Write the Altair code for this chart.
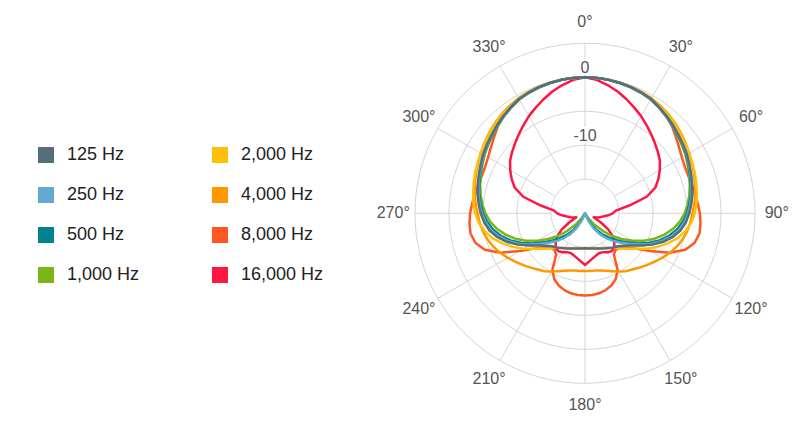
import altair as alt
import pandas as pd

# ---------------- data (dB; pattern is symmetric) -------------
angles = [0, 5, 10, 15, 20, 25, 30, 35, 40, 45, 50, 55, 60, 65, 70, 75, 80, 85, 90,
          95, 100, 105, 110, 115, 120, 125, 130, 135, 140, 145, 150, 155, 160, 165,
          170, 175, 180]

db_125 = [0, -0.01, -0.07, -0.15, -0.26, -0.41, -0.59, -0.96, -1.32, -1.69, -2.06,
          -2.38, -2.68, -3.06, -3.38, -3.68, -3.97, -4.31, -4.66, -5.1, -5.7, -6.6,
          -7.75, -9.1, -10.55, -11.75, -12.6, -13.15, -13.45, -13.75, -14.05, -14.3,
          -14.5, -14.65, -14.75, -14.8, -14.85]
db_250 = [0, -0.01, -0.07, -0.16, -0.27, -0.43, -0.62, -0.99, -1.36, -1.74, -2.11,
          -2.45, -2.76, -3.14, -3.47, -3.78, -4.1, -4.45, -4.82, -5.3, -5.95, -6.85,
          -8.0, -9.35, -10.8, -12.2, -13.3, -14.3, -15.3, -16.3, -17.4, -18.7,
          -20, -20, -20, -20, -20]
db_500 = [0, -0.01, -0.07, -0.16, -0.28, -0.44, -0.64, -1.01, -1.39, -1.78, -2.16,
          -2.5, -2.82, -3.21, -3.56, -3.88, -4.2, -4.6, -5.0, -5.55, -6.25, -7.2,
          -8.35, -9.7, -11.1, -12.55, -13.8, -14.9, -15.9, -16.9, -18.0, -19.2,
          -20, -20, -20, -20, -20]
db_1000 = [0, -0.01, -0.07, -0.16, -0.28, -0.45, -0.66, -1.04, -1.43, -1.83, -2.23,
           -2.58, -2.92, -3.32, -3.7, -4.05, -4.42, -4.85, -5.35, -6.0, -6.85, -7.9,
           -9.1, -10.45, -11.95, -13.4, -14.8, -16.4, -17.8, -19.0, -20, -20,
           -20, -20, -20, -20, -20]
db_2000 = [0, -0.01, -0.05, -0.12, -0.22, -0.35, -0.52, -0.78, -1.08, -1.38, -1.7,
           -2.0, -2.3, -2.56, -2.8, -3.05, -3.3, -3.55, -3.85, -4.3, -5.0, -5.9,
           -7.05, -8.3, -9.6, -10.9, -11.9, -12.7, -13.4, -13.8, -14.1, -14.35,
           -14.55, -14.7, -14.8, -14.85, -14.9]
db_4000 = [0, -0.01, -0.04, -0.1, -0.18, -0.3, -0.45, -0.68, -0.95, -1.25, -1.6,
           -1.95, -2.3, -2.65, -2.95, -3.25, -3.55, -3.85, -4.2, -4.45, -4.75, -5.15,
           -5.65, -6.25, -6.9, -7.55, -8.15, -8.7, -9.2, -9.6, -10.1, -10.6,
           -11.0, -11.3, -11.45, -11.5, -11.5]
db_8000 = [0, -0.01, -0.05, -0.12, -0.22, -0.38, -0.6, -0.95, -1.35, -1.9, -2.55,
           -3.1, -3.55, -3.8, -3.85, -3.75, -3.6, -3.35, -3.1, -2.95, -2.9, -3.3,
           -4.3, -6.3, -8.9, -11.0, -12.2, -12.8, -13.0, -12.6, -10.4, -9.3,
           -8.7, -8.3, -8.05, -7.95, -7.9]
db_16000 = [0, -0.3, -0.85, -1.45, -2.15, -2.85, -3.5, -4.2, -4.85, -5.45, -6.0,
            -6.55, -7.3, -8.1, -9.0, -10.6, -13.4, -15.45, -15.9, -16.6, -17.3, -17.8,
            -18.2, -18.6, -17.3, -15.8, -14.6, -13.9, -13.3, -13.2, -13.4, -13.7,
            -13.8, -13.6, -13.3, -12.9, -12.4]

freq_labels = ["125 Hz", "250 Hz", "500 Hz", "1,000 Hz",
               "2,000 Hz", "4,000 Hz", "8,000 Hz", "16,000 Hz"]
freq_colors = ["#546E7A", "#64A9D1", "#00838F", "#7CB518",
               "#FFC107", "#FF9800", "#FF5722", "#FF1744"]
series_values = [db_125, db_250, db_500, db_1000, db_2000, db_4000, db_8000, db_16000]

ring_levels = [-15, -10, -5, 0, 5]
ring_angles = list(range(0, 361, 2))
spoke_angles = [0, 30, 60, 90, 120, 150, 180, 210, 240, 270, 300, 330]
spoke_inner_db = -15
spoke_outer_db = 5
angle_label_db = 8.2
angle_label_text = ["0°", "30°", "60°", "90°", "120°", "150°", "180°",
                    "210°", "240°", "270°", "300°", "330°"]
radial_label_db = [0, -10]
radial_label_text = ["0", "-10"]
DB_FLOOR = -20

# ---------------- tables ----------------
rows = []
full_angles = angles + [360 - a for a in reversed(angles[:-1])]
for label, vals in reversed(list(zip(freq_labels, series_values))):
    full_vals = vals + list(reversed(vals[:-1]))
    for a, v in zip(full_angles, full_vals):
        rows.append({"freq": label, "angle": a, "db": v})
curves = pd.DataFrame(rows)

rings = pd.DataFrame([{"level": lv, "angle": a, "db": lv}
                      for lv in ring_levels for a in ring_angles])
spokes = pd.DataFrame({"angle": spoke_angles,
                       "db": [spoke_inner_db] * len(spoke_angles),
                       "db2": [spoke_outer_db] * len(spoke_angles)})
alabels = pd.DataFrame({"angle": spoke_angles,
                        "db": [angle_label_db] * len(spoke_angles),
                        "text": angle_label_text})
rlabels = pd.DataFrame({"angle": [0] * len(radial_label_db),
                        "db": radial_label_db, "text": radial_label_text})

# ---------------- scales ----------------
PX_PER_UNIT = 6.8
W, H = 784, 410
CX, CY = 577, 205.3
xs = alt.Scale(domain=[-CX / PX_PER_UNIT, (W - CX) / PX_PER_UNIT], nice=False, zero=False)
ys = alt.Scale(domain=[-(H - CY) / PX_PER_UNIT, CY / PX_PER_UNIT], nice=False, zero=False)

R = f"max(datum.db - ({DB_FLOOR}), 0)"
def polar(ch):
    return (ch.transform_calculate(r=R)
              .transform_calculate(px="datum.r * sin(datum.angle * PI / 180)",
                                   py="datum.r * cos(datum.angle * PI / 180)"))

X = alt.X("px:Q", scale=xs, axis=None)
Y = alt.Y("py:Q", scale=ys, axis=None)

grid_color = "#d4d4d4"
font = "Liberation Sans, Arial, Helvetica, sans-serif"

ring_layer = polar(alt.Chart(rings)).mark_line(
    color=grid_color, strokeWidth=1).encode(
    x=X, y=Y, detail="level:N", order="angle:Q")

spoke_layer = (alt.Chart(spokes)
               .transform_calculate(r1=f"datum.db - ({DB_FLOOR})", r2=f"datum.db2 - ({DB_FLOOR})")
               .transform_calculate(
                   x1="datum.r1 * sin(datum.angle * PI / 180)",
                   y1="datum.r1 * cos(datum.angle * PI / 180)",
                   x2="datum.r2 * sin(datum.angle * PI / 180)",
                   y2="datum.r2 * cos(datum.angle * PI / 180)")
               .mark_rule(color=grid_color, strokeWidth=1)
               .encode(x=alt.X("x1:Q", scale=xs, axis=None),
                       y=alt.Y("y1:Q", scale=ys, axis=None),
                       x2="x2:Q", y2="y2:Q"))

curve_layer = polar(alt.Chart(curves)).mark_line(
    strokeWidth=2.5, strokeJoin="round", strokeCap="round").encode(
    x=X, y=Y, order="angle:Q",
    color=alt.Color("freq:N",
                    scale=alt.Scale(domain=freq_labels, range=freq_colors),
                    legend=alt.Legend(orient="none", legendX=29, legendY=138, columns=2,
                                      columnPadding=60, rowPadding=0, title=None,
                                      symbolType="square", symbolSize=64,
                                      symbolStrokeWidth=8, labelFontSize=18,
                                      labelFont=font, labelColor="#222222",
                                      labelOffset=12, padding=0)))

rhalo = polar(alt.Chart(rlabels)).mark_text(
    fontSize=16, font=font, baseline="alphabetic", align="center", dy=-4.5,
    stroke="white", strokeWidth=4, color="white").encode(x=X, y=Y, text="text:N")
rtext = polar(alt.Chart(rlabels)).mark_text(
    fontSize=16, font=font, baseline="alphabetic", align="center", dy=-4.5,
    color="#555555").encode(x=X, y=Y, text="text:N")
atext = polar(alt.Chart(alabels)).mark_text(
    fontSize=16, font=font, baseline="middle", align="center",
    color="#555555").encode(x=X, y=Y, text="text:N")

chart = (alt.layer(ring_layer, spoke_layer, curve_layer, rhalo, rtext, atext)
         .properties(width=W, height=H, padding=0, autosize=alt.AutoSizeParams(type="none"),
                     background="white")
         .configure_view(strokeWidth=0))

chart.save("out.html", embed_options={"renderer": "svg", "actions": False})
